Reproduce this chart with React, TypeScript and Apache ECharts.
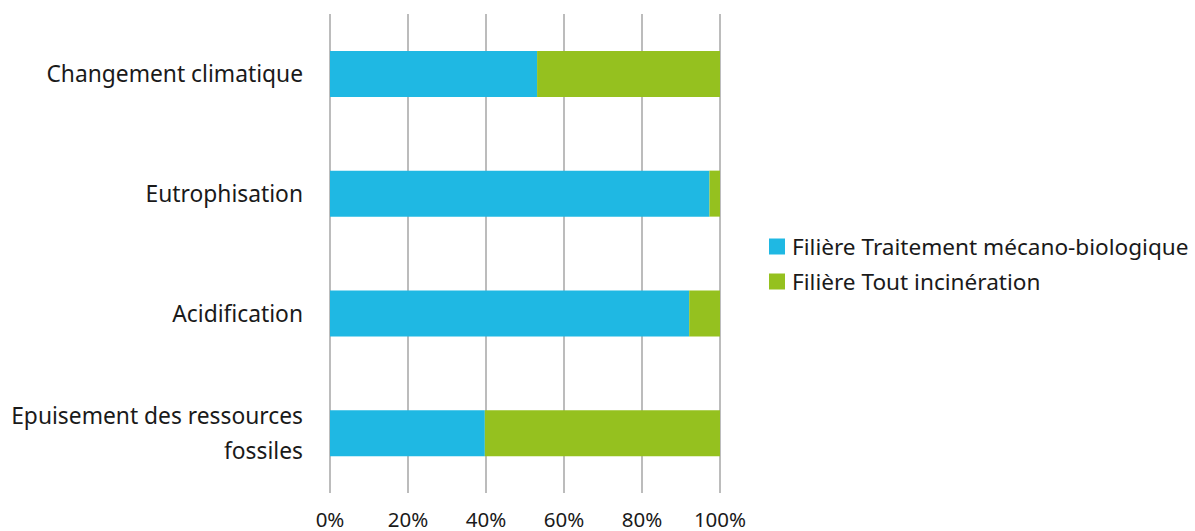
import React, { useEffect, useRef } from "react";
import * as echarts from "echarts";

const categories = [
  "Changement climatique",
  "Eutrophisation",
  "Acidification",
  "Epuisement des ressources\nfossiles",
];
const seriesNames = [
  "Filière Traitement mécano-biologique",
  "Filière Tout incinération",
];
const tmbShare = [53.1, 97.3, 92.1, 39.7];
const incinerationShare = [46.9, 2.7, 7.9, 60.3];
const xTicks = [0, 20, 40, 60, 80, 100];

const FONT = "'Noto Sans', sans-serif";

export default function App() {
  const ref = useRef<HTMLDivElement>(null);

  useEffect(() => {
    if (!ref.current) return;
    const chart = echarts.init(ref.current, undefined, { renderer: "svg" });
    chart.setOption({
      animation: false,
      backgroundColor: "#ffffff",
      textStyle: { fontFamily: FONT },
      grid: { left: 330, right: 475, top: 14, bottom: 38, containLabel: false },
      legend: {
        orient: "vertical",
        left: 764,
        top: 229,
        itemWidth: 16,
        itemHeight: 16,
        itemGap: 10,
        icon: "rect",
        textStyle: { fontFamily: FONT, fontSize: 22.6, color: "#1a1a1a", padding: [0, 0, 0, 2], lineHeight: 25 },
        data: seriesNames,
      },
      xAxis: {
        type: "value",
        min: xTicks[0],
        max: xTicks[xTicks.length - 1],
        interval: 20,
        axisLine: { show: false },
        axisTick: { show: false },
        axisLabel: {
          formatter: "{value}%",
          fontFamily: FONT,
          fontSize: 20.5,
          color: "#1a1a1a",
          margin: 15,
        },
        splitLine: { show: true, lineStyle: { color: "#bcbcbc", width: 2 } },
      },
      yAxis: {
        type: "category",
        data: categories,
        inverse: true,
        axisLine: { show: false },
        axisTick: { show: false },
        axisLabel: {
          fontFamily: FONT,
          fontSize: 22.8,
          color: "#1a1a1a",
          margin: 27,
          lineHeight: 35,
          align: "right",
        },
      },
      series: [
        {
          name: seriesNames[0],
          type: "bar",
          stack: "total",
          barWidth: 46,
          itemStyle: { color: "#1fb8e3" },
          data: tmbShare,
        },
        {
          name: seriesNames[1],
          type: "bar",
          stack: "total",
          barWidth: 46,
          itemStyle: { color: "#95c11f" },
          data: incinerationShare,
        },
      ],
    });
    return () => chart.dispose();
  }, []);

  return (
    <div
      ref={ref}
      style={{ position: "fixed", left: 0, top: 0, width: 1195, height: 531 }}
    />
  );
}
